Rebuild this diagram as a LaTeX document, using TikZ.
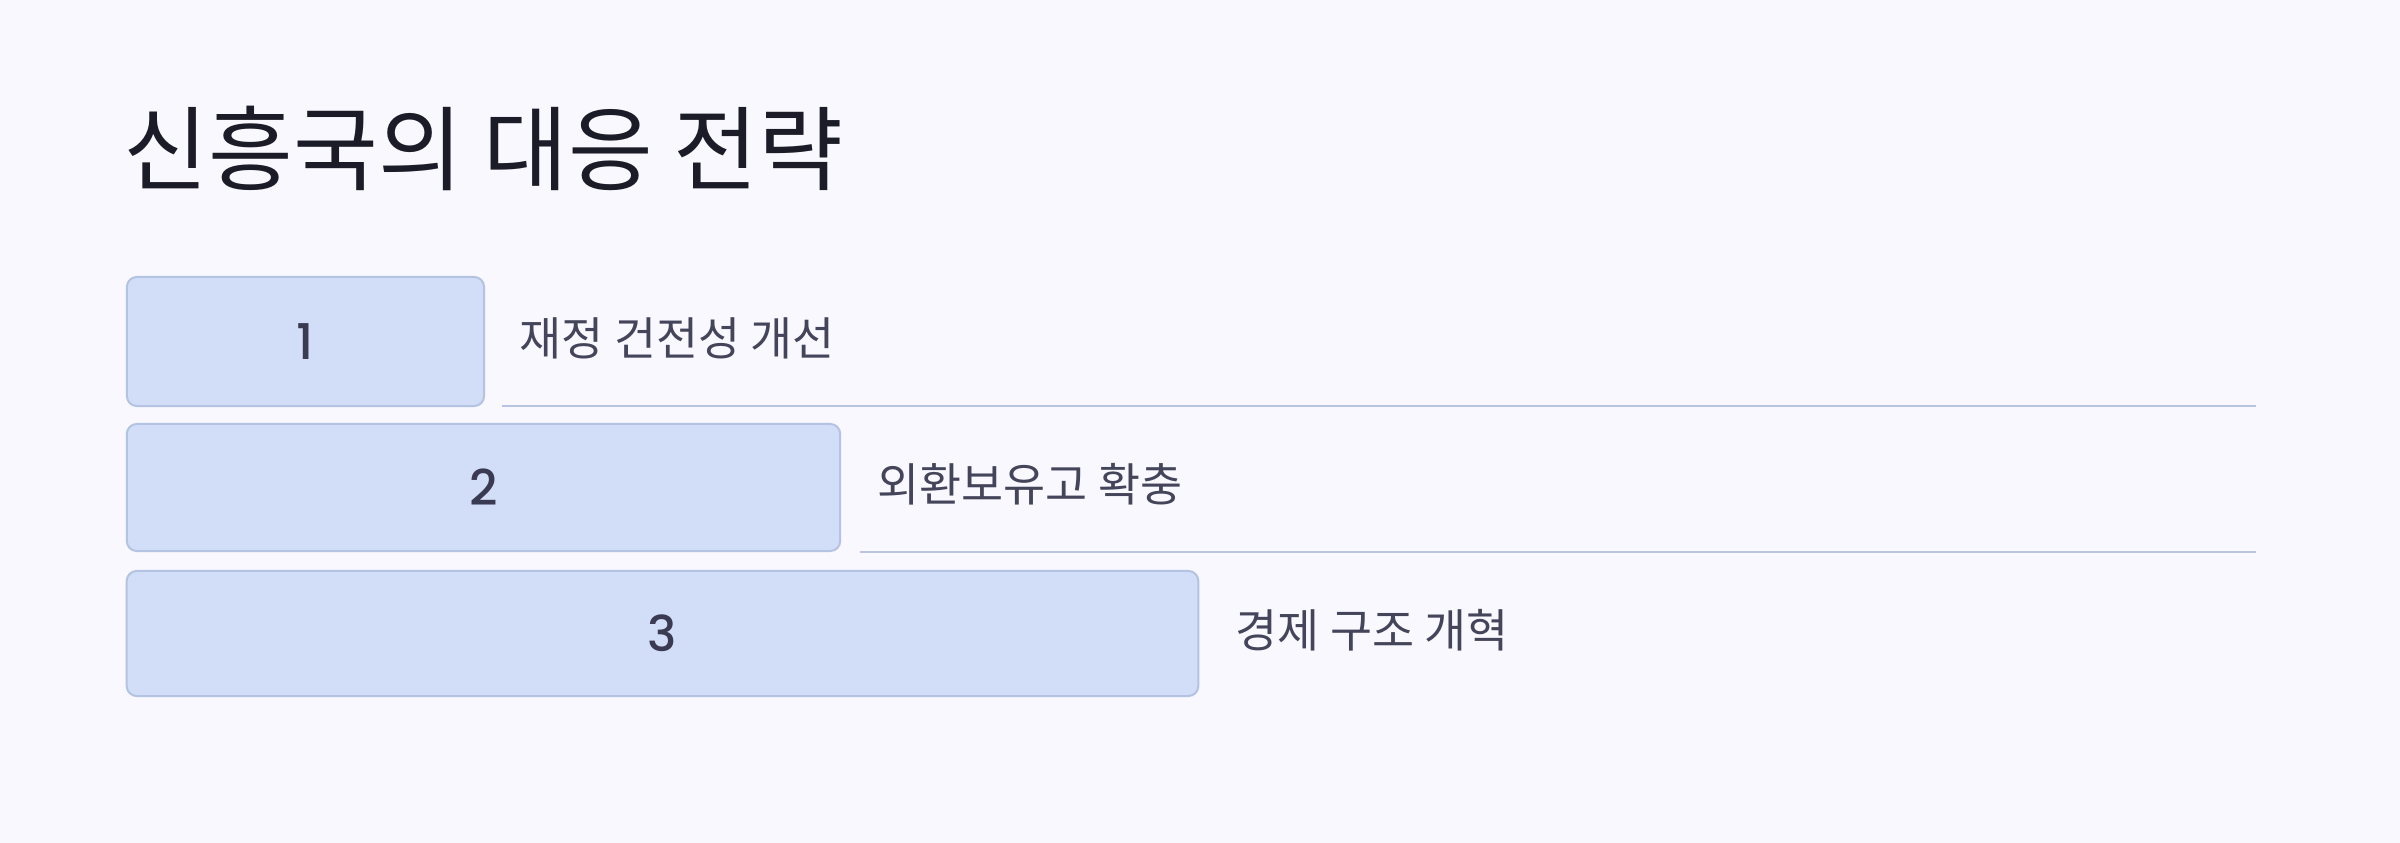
\documentclass[tikz,border=0pt]{standalone}
\usepackage{fontspec}
\newfontfamily\kr{Noto Sans CJK KR}
\newfontfamily\num{Poppins}[UprightFont=* Medium]
\definecolor{bg}{HTML}{F8F8FE}
\definecolor{boxfill}{HTML}{D2DEF7}
\definecolor{boxline}{HTML}{B4C3E2}
\definecolor{ruleline}{HTML}{B8C4E0}
\definecolor{numcol}{HTML}{3A3A52}
\definecolor{labcol}{HTML}{44445A}
\definecolor{titlecol}{HTML}{1C1C28}
\tikzset{
  stepbox/.style={draw=boxline, fill=boxfill, line width=0.02cm, rounded corners=0.1cm, inner sep=0pt, font=\num\fontsize{14}{16}\selectfont, text=numcol},
  steplabel/.style={anchor=west, inner sep=0pt, font=\kr\fontsize{13}{15}\selectfont, text=labcol},
  rule/.style={draw=ruleline, line width=0.02cm}
}
\begin{document}
\begin{tikzpicture}[x=0.01cm,y=-0.01cm]
\fill[bg] (0,0) rectangle (2400,843);
\useasboundingbox (0,0) rectangle (2400,843);
\node[anchor=base west, inner sep=0pt, text=titlecol, font=\kr\fontsize{26.2}{30}\selectfont] (title) at (123,184) {신흥국의 대응 전략};
\node[stepbox, minimum width=3.57cm, minimum height=1.29cm] (b1) at (305.5,341.5) {1};
\node[stepbox, minimum width=7.13cm, minimum height=1.27cm] (b2) at (483.5,487.5) {2};
\node[stepbox, minimum width=10.71cm, minimum height=1.25cm] (b3) at (662.5,633.5) {3};
\node[steplabel] (l1) at (519,338) {재정 건전성 개선};
\node[steplabel] (l2) at (877,484) {외환보유고 확충};
\node[steplabel] (l3) at (1235,630) {경제 구조 개혁};
\coordinate (r1a) at (502,406); \coordinate (r1b) at (2256,406);
\coordinate (r2a) at (860,551.5); \coordinate (r2b) at (2256,551.5);
\draw[rule] (r1a) -- (r1b);
\draw[rule] (r2a) -- (r2b);
\end{tikzpicture}
\end{document}
